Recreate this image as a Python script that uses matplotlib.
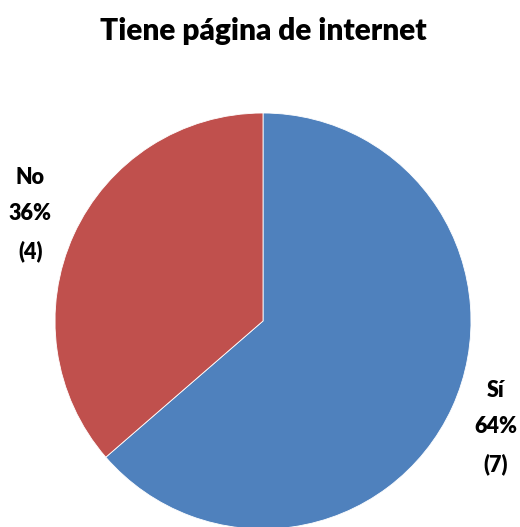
import matplotlib.pyplot as plt

# --- Datos ---
categorias = ["Sí", "No"]
valores = [7, 4]
colores = ["#4F81BD", "#C0504D"]
titulo = "Tiene página de internet"

total = sum(valores)
etiquetas = [f"{c}\n{round(v / total * 100)}%\n({v})" for c, v in zip(categorias, valores)]

plt.rcParams['font.family'] = ['Lato', 'DejaVu Sans']

fig = plt.figure(figsize=(5.2, 5.27), dpi=100)
# centro del pie en (263, 321) px, radio ~208 px
ax = fig.add_axes([(263 - 208) / 520, (206 - 208) / 527, 416 / 520, 416 / 527])

wedges, texts = ax.pie(valores, colors=colores, startangle=90, counterclock=False,
                       labels=etiquetas, labeldistance=1.23,
                       wedgeprops=dict(linewidth=0.6, edgecolor="white"),
                       textprops=dict(fontsize=15.5, fontweight="heavy", color="#000000",
                                      linespacing=1.9))
for t in texts:
    t.set_ha("center")
    t.set_va("center")
    t.set_clip_on(False)
for w in wedges:
    w.set_clip_on(False)

ax.set_xlim(-1, 1)
ax.set_ylim(-1, 1)
ax.set_aspect("equal")
ax.axis("off")

fig.text(263 / 520, 1 - 31 / 527, titulo, ha="center", va="center",
         fontsize=21.5, fontweight="heavy")

fig.savefig("out.png", dpi=100, facecolor="white")
plt.close(fig)
